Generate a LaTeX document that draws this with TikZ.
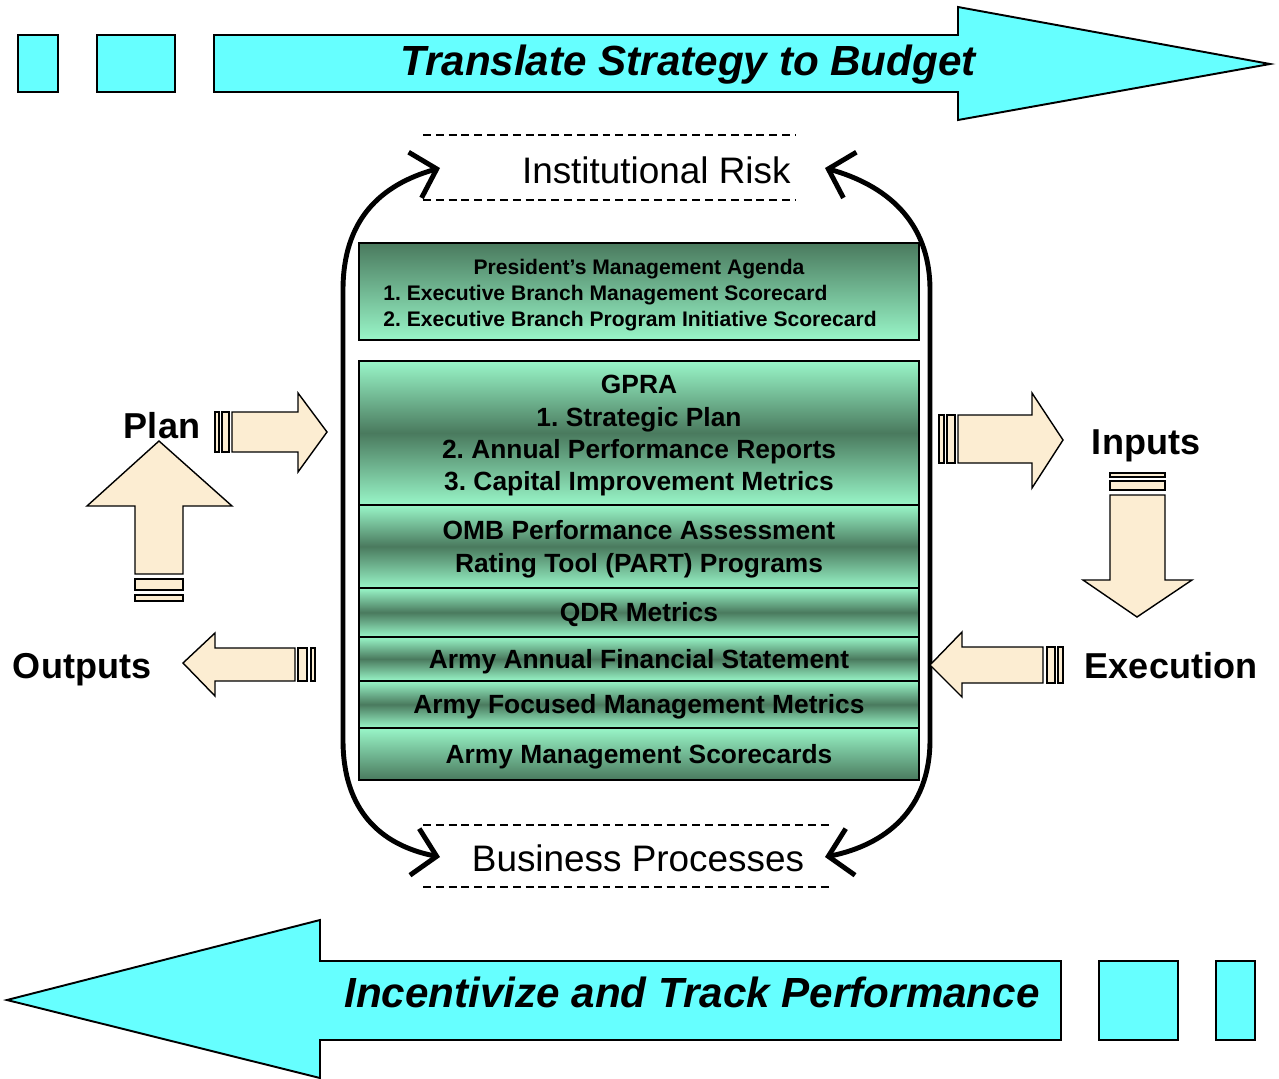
\documentclass[tikz,border=0pt]{standalone}
\usepackage{fontspec}
\setmainfont{Liberation Sans}
\usepackage{tikz}
\usetikzlibrary{arrows.meta,positioning}
\definecolor{budgetcyan}{RGB}{102,255,255}
\definecolor{metriclight}{RGB}{153,246,200}
\definecolor{metricdark}{RGB}{74,122,94}
\definecolor{planbeige}{RGB}{252,237,210}
\frenchspacing

\begin{document}
\begin{tikzpicture}[x=0.02cm,y=-0.02cm,line join=miter,
  cyanshape/.style={fill=budgetcyan,draw=black,line width=1.1pt},
  beigeshape/.style={fill=planbeige,draw=black,line width=0.8pt},
  rowbox/.style={draw=black,line width=0.8pt,minimum width=11.2cm,inner sep=0pt,outer sep=0pt,
    align=center,text depth=0pt,font=\bfseries\fontsize{15}{18.3}\selectfont,
    top color=metriclight,bottom color=metriclight,middle color=metricdark},
  bandtext/.style={font=\bfseries\itshape\fontsize{24}{28}\selectfont,inner sep=0pt},
  cycletext/.style={font=\fontsize{21}{25}\selectfont,inner sep=0pt},
  steplabel/.style={font=\bfseries\fontsize{20.5}{24}\selectfont,inner sep=0pt},
  riskdash/.style={line width=0.8pt,dash pattern=on 4.5pt off 2.8pt},
  cyclearrow/.style={line width=2.8pt,
    {Straight Barb[length=4.5mm,width=9.5mm]}-{Straight Barb[length=4.5mm,width=9.5mm]}}]
 \useasboundingbox (0,0) rectangle (1279,1079);

 % strategy band
 \draw[cyanshape] (18,35) rectangle (58,92);
 \draw[cyanshape] (97,35) rectangle (175,92);
 \draw[cyanshape] (214,35)--(958,35)--(958,7)--(1270,64)--(958,120)--(958,92)--(214,92)--cycle;
 \node[bandtext,anchor=base] (budget) at (688,75) {Translate Strategy to Budget};

 % performance band
 \draw[cyanshape] (1099,961) rectangle (1178,1040);
 \draw[cyanshape] (1216,961) rectangle (1255,1040);
 \draw[cyanshape] (1061,961)--(320,961)--(320,920)--(7,1000)--(320,1078)--(320,1040)--(1061,1040)--cycle;
 \node[bandtext,anchor=base east] (track) at (1040,1007) {Incentivize and Track Performance};

 % metric stack
 \node[rowbox,top color=metricdark,bottom color=metriclight,minimum height=1.94cm,
   font=\bfseries\fontsize{12}{14.7}\selectfont] (pma) at (639,291.5)
   {\begin{tabular}[b]{@{}l@{\hspace{0.36cm}}}
    \multicolumn{1}{@{}c@{}}{President’s Management Agenda}\\
    1. Executive Branch Management Scorecard\\
    2. Executive Branch Program Initiative Scorecard
    \end{tabular}};
 \node[rowbox,minimum height=2.88cm,below=0.42cm of pma] (gpra)
   {GPRA\\1. Strategic Plan\\2. Annual Performance Reports\\3. Capital Improvement Metrics};
 \node[rowbox,minimum height=1.66cm,below=0pt of gpra] (omb)
   {OMB Performance Assessment\\Rating Tool (PART) Programs};
 \node[rowbox,minimum height=0.98cm,below=0pt of omb] (qdr) {QDR Metrics};
 \node[rowbox,minimum height=0.88cm,below=0pt of qdr] (afs) {Army Annual Financial Statement};
 \node[rowbox,minimum height=0.94cm,below=0pt of afs] (afm) {Army Focused Management Metrics};
 \node[rowbox,top color=metriclight,bottom color=metricdark,minimum height=1.04cm,
   below=0pt of afm] (ams) {Army Management Scorecards};

 % risk / process cycle
 \draw[riskdash] (423,135)--(795,135);
 \draw[riskdash] (423,200)--(795,200);
 \draw[riskdash] (423,825)--(830,825);
 \draw[riskdash] (423,887)--(830,887);
 \node[cycletext,anchor=base east] (risk) at (791,183) {Institutional Risk};
 \node[cycletext,anchor=base] (process) at (638,871) {Business Processes};
 \coordinate (riskW) at (440,168);
 \coordinate (riskE) at (825,168);
 \coordinate (procW) at (440,857);
 \coordinate (procE) at (825,857);
 \draw[cyclearrow] (riskW) .. controls (380,185) and (343,220) .. (343,290)
   -- (343,740) .. controls (343,810) and (380,845) .. (procW);
 \draw[cyclearrow] (riskE) .. controls (885,185) and (930,220) .. (930,290)
   -- (930,740) .. controls (930,810) and (885,845) .. (procE);

 % plan / inputs / execution / outputs
 \node[steplabel,anchor=base] (plan) at (162,438) {Plan};
 \node[steplabel,anchor=base] (inputs) at (1146,454) {Inputs};
 \node[steplabel,anchor=base] (execution) at (1171,678) {Execution};
 \node[steplabel,anchor=base] (outputs) at (82,678) {Outputs};

 \draw[beigeshape] (215,412) rectangle (219,452);
 \draw[beigeshape] (222,412) rectangle (229,452);
 \draw[beigeshape] (232,412)--(298,412)--(298,393)--(327,432)--(298,472)--(298,452)--(232,452)--cycle;

 \draw[beigeshape] (939,415) rectangle (944,463);
 \draw[beigeshape] (947,415) rectangle (955,463);
 \draw[beigeshape] (958,415)--(1032,415)--(1032,393)--(1063,440)--(1032,488)--(1032,463)--(958,463)--cycle;

 \draw[beigeshape] (1110,473) rectangle (1165,477);
 \draw[beigeshape] (1110,481) rectangle (1165,490);
 \draw[beigeshape] (1110,495)--(1165,495)--(1165,580)--(1192,580)--(1137,617)--(1083,580)--(1110,580)--cycle;

 \draw[beigeshape] (1047,647) rectangle (1055,683);
 \draw[beigeshape] (1058,647) rectangle (1063,683);
 \draw[beigeshape] (1043,647)--(962,647)--(962,632)--(930,665)--(962,697)--(962,683)--(1043,683)--cycle;

 \draw[beigeshape] (298,648) rectangle (307,681);
 \draw[beigeshape] (311,648) rectangle (315,681);
 \draw[beigeshape] (295,648)--(215,648)--(215,633)--(183,663)--(215,696)--(215,681)--(295,681)--cycle;

 \draw[beigeshape] (135,579) rectangle (183,590);
 \draw[beigeshape] (135,595) rectangle (183,601);
 \draw[beigeshape] (135,574)--(135,506)--(87,506)--(159,441)--(232,506)--(183,506)--(183,574)--cycle;
\end{tikzpicture}
\end{document}
